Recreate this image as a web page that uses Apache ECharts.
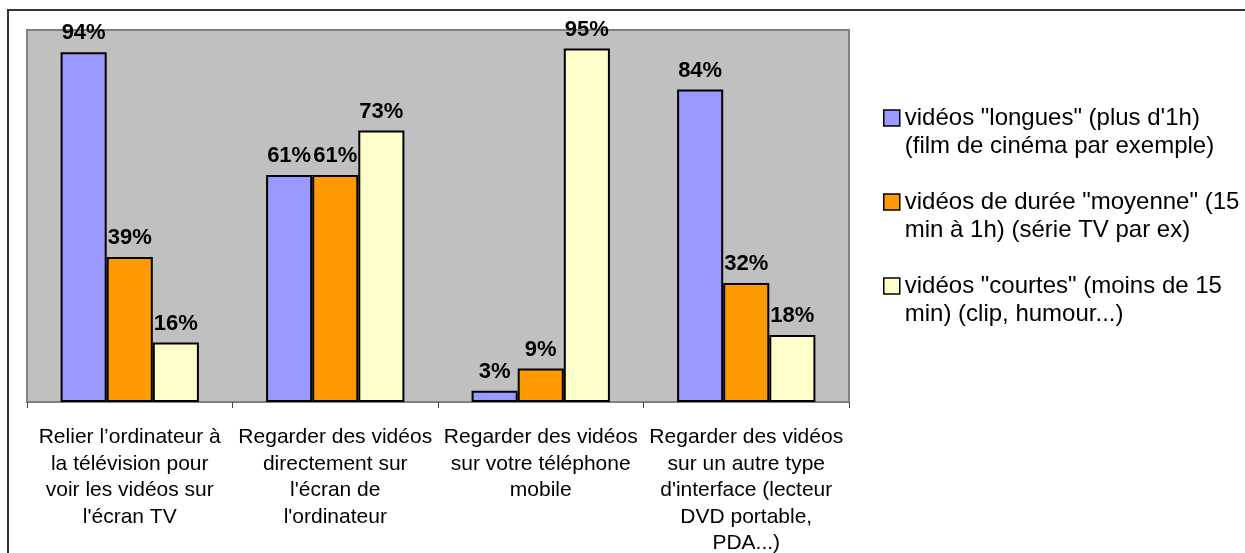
<!DOCTYPE html>
<html>
<head>
<meta charset="utf-8">
<script src="https://cdn.jsdelivr.net/npm/echarts@6/dist/echarts.min.js"></script>
<style>
  html, body { margin: 0; padding: 0; background: #fff; }
  #chart { width: 1245px; height: 553px; }
</style>
</head>
<body>
<div id="chart"></div>
<script>
// catégories (axe x)
const categories = [
  'Relier l\u2019ordinateur à\nla télévision pour\nvoir les vidéos sur\nl\'écran TV',
  'Regarder des vidéos\ndirectement sur\nl\'écran de\nl\'ordinateur',
  'Regarder des vidéos\nsur votre téléphone\nmobile',
  'Regarder des vidéos\nsur un autre type\nd\'interface (lecteur\nDVD portable,\nPDA...)'
]

// noms des séries (légende)
const seriesNames = [
  'vidéos "longues" (plus d\'1h)\n(film de cinéma par exemple)',
  'vidéos de durée "moyenne" (15\nmin à 1h) (série TV par ex)',
  'vidéos "courtes" (moins de 15\nmin) (clip, humour...)'
]

// valeurs en %
const longues = [94, 61, 3, 84]
const moyennes = [39, 61, 9, 32]
const courtes = [16, 73, 95, 18]

const colors = ['#9999FF', '#FF9900', '#FFFFCC']
const font = 'Arial, "Liberation Sans", sans-serif'

const chart = echarts.init(document.getElementById('chart'))

const makeSeries = (name, data, color) => ({
  name,
  type: 'bar',
  data,
  barGap: '0%',
  barCategoryGap: '32.7%',
  itemStyle: { color, borderColor: '#000', borderWidth: 2 },
  label: {
    show: true,
    position: 'top',
    distance: 8,
    formatter: '{c}%',
    color: '#000',
    fontFamily: font,
    fontWeight: 'bold',
    fontSize: 22,
  },
})

chart.setOption({
  animation: false,
  graphic: [
    {
      type: 'rect',
      shape: { x: 8, y: 10, width: 1300, height: 600 },
      style: { fill: 'none', stroke: '#333', lineWidth: 2 },
      z: 100,
    },
  ],
  grid: {
    left: 27,
    right: 396,
    top: 30,
    bottom: 151,
    outerBoundsMode: 'none',
    show: true,
    backgroundColor: '#C0C0C0',
    borderColor: '#808080',
    borderWidth: 2,
  },
  legend: {
    orient: 'vertical',
    left: 883,
    top: 76,
    padding: 0,
    itemGap: 0,
    itemWidth: 16,
    itemHeight: 16,
    icon: 'rect',
    itemStyle: { borderColor: '#000', borderWidth: 1.5 },
    // ligne vide devant pour aligner l'icône sur la 1re ligne
    formatter: (name) => '\n' + name,
    textStyle: {
      fontFamily: font,
      fontSize: 24,
      lineHeight: 28,
      color: '#000',
    },
    data: seriesNames,
  },
  xAxis: {
    type: 'category',
    data: categories,
    axisLine: { lineStyle: { color: '#808080', width: 2 } },
    axisTick: { show: true, length: 6, lineStyle: { color: '#444', width: 1 } },
    axisLabel: {
      margin: 22,
      color: '#000',
      fontFamily: font,
      fontSize: 21,
      lineHeight: 26.5,
      interval: 0,
    },
  },
  yAxis: {
    type: 'value',
    min: 0,
    max: 100,
    show: false,
    splitLine: { show: false },
  },
  series: [
    makeSeries(seriesNames[0], longues, colors[0]),
    makeSeries(seriesNames[1], moyennes, colors[1]),
    makeSeries(seriesNames[2], courtes, colors[2]),
  ],
})
</script>
</body>
</html>
